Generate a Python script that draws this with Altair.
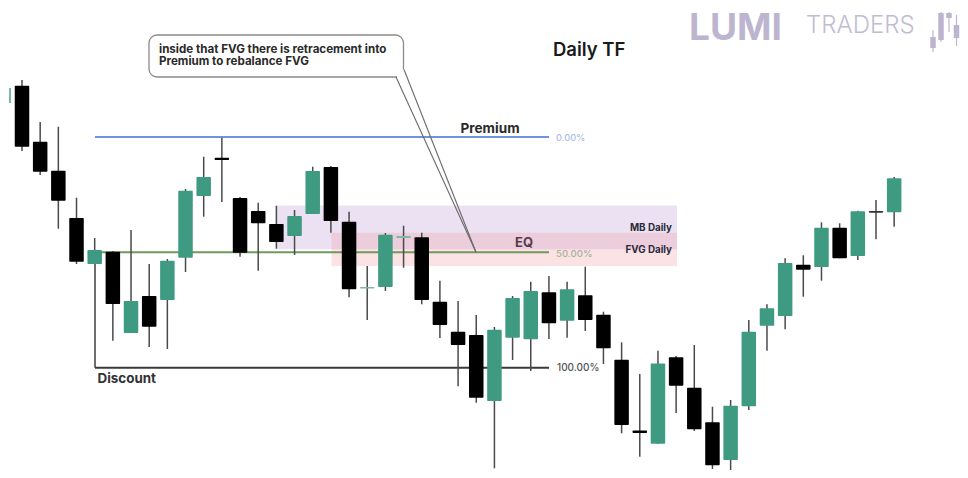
import altair as alt
import pandas as pd

# Candles (vertical chart units, larger = lower on the page)
day = list(range(49))
wick_top = [80,122,126.7,197.7,238,251,230,264,259,189,156.7,137.7,197,202.7,205.7,210,166.7,166,211.7,266,233,225.7,232.7,280.7,301,315,327,296,281.7,276,281.7,266.7,311.7,342.3,374,350.7,356,345,406.7,400,320,304.3,258.3,255.3,222.3,223.3,210.7,200,177]
body_top = [85.7,141.7,170.7,218,250,251.7,301,296,260.7,190.7,177,157.7,198,211,224,216,171,167,221.7,287,234.7,236,237.3,301.7,331.7,335,329.7,298,291,292.3,289.3,295.3,314.7,359.7,430.5,363.5,357.3,387.7,422.3,405.7,331.7,308.3,263,264.7,227.7,227.7,211.3,211,178.3]
body_bot = [146.7,171.7,200.7,261.7,264,304,333,326.7,300,257.7,196,160,252.7,223.3,242,236,214,221,289.3,288.5,287,238,300,325,345,397.7,401,337.7,339.3,323.3,320.7,320,348.3,425,433,443.7,385.7,429.3,465.3,460,406.3,325.7,316,269.7,267,258.3,256,212.7,212.3]
wick_bot = [151,175,228.7,264,264,340.7,333,347,349,272,216.7,202,256.7,270.7,248.7,255,214,232.7,297.3,320,291,267.7,304.3,338,386.3,402.7,468.3,360,371,339,337.7,331,364,433.3,456.7,443.7,413,431,469,470,410,350.7,329.3,296.7,280.7,258.3,260,239.3,226.7]
kind = ["down","down","down","down","up","down","up","down","up","up","up","down","down","down","down","up","up","down","down","doji","up","doji","down","down","down","down","up","up","up","down","up","down","down","down","down","up","down","down","down","up","up","up","up","down","up","down","up","dark","up"]

# Fibonacci levels and zones
premium_level, eq_level, discount_level = 137, 252.3, 367.7
mb_zone = [205.5, 249.3]
fvg_zone = [232.7, 266]

df = pd.DataFrame(dict(day=day, wick_top=wick_top, body_top=body_top, body_bot=body_bot, wick_bot=wick_bot, kind=kind))

SPACING = 18.17
FIRST = 22
def D(px):
    return (px - FIRST) / SPACING

X = alt.Scale(domain=[D(8), D(960)], range=[0, 952], nice=False, zero=False, padding=0)
Y = alt.Scale(domain=[8, 470], range=[0, 462], nice=False, zero=False, padding=0)
xq = lambda f: alt.X(f, type="quantitative", scale=X, axis=None)
yq = lambda f: alt.Y(f, type="quantitative", scale=Y, axis=None)

FONT = "Inter"

def zone(x0, x1, band, color, opacity):
    d = pd.DataFrame([dict(a=D(x0), b=D(x1), t=band[0], u=band[1])])
    return alt.Chart(d).mark_rect(color=color, opacity=opacity).encode(
        x=xq("a"), x2="b", y=yq("t"), y2="u")

def seg(x0, y0, x1, y1, color, w=1.5):
    d = pd.DataFrame([dict(a=D(x0), b=D(x1), t=y0, u=y1)])
    return alt.Chart(d).mark_rule(color=color, strokeWidth=w).encode(
        x=xq("a"), x2="b", y=yq("t"), y2="u")

def label(txt, px, py, size, color, weight="bold", align="left", font=FONT):
    d = pd.DataFrame([dict(a=D(px), t=py, s=txt)])
    return alt.Chart(d).mark_text(align=align, baseline="middle", fontSize=size, color=color,
                                  fontWeight=weight, font=font).encode(
        x=xq("a"), y=yq("t"), text="s:N")

# Zones behind everything
layers = [
    zone(277, 677, mb_zone, "#ebe1f2", 1),
    zone(331.5, 677, fvg_zone, "#f0a0a8", 0.3),
    seg(95, premium_level, 549, premium_level, "#6f93e0", 2),
    seg(95, eq_level, 549, eq_level, "#6f9a5c", 2),
    seg(95, discount_level, 549, discount_level, "#3a3a3a", 2),
    seg(95, 264, 95, discount_level, "#4a4a4a", 1.6),
]

# Candles
wicks = alt.Chart(df).mark_rule(color="#4a4a4a", strokeWidth=1.5).encode(
    x=xq("day"), y=yq("wick_top"), y2="wick_bot")
bodies = alt.Chart(df).mark_bar(size=14.5, cornerRadius=1).encode(
    x=xq("day"), y=yq("body_top"), y2="body_bot",
    color=alt.Color("kind:N", legend=None, scale=alt.Scale(
        domain=["up", "down", "doji", "dark"],
        range=["#3f9a82", "#000000", "#7db8a6", "#333333"])))
layers += [wicks, bodies, seg(10, 88, 10, 103, "#3f9a82", 1.4)]

# Callout
box = pd.DataFrame([dict(a=D(149), b=D(403.5), t=35, u=77)])
layers += [
    alt.Chart(box).mark_rect(fill="white", stroke="#8a8a8a", strokeWidth=1.3, cornerRadius=8).encode(
        x=xq("a"), x2="b", y=yq("t"), y2="u"),
    zone(397, 405.5, [69.5, 79], "white", 1),
    seg(396, 77, 476, 252.3, "#6a6a6a", 1.1),
    seg(404, 69.5, 476, 252.3, "#6a6a6a", 1.1),
    label("inside that FVG there is retracement into", 159, 49.5, 11.6, "#2a2a2a"),
    label("Premium to rebalance FVG", 159, 62, 11.6, "#2a2a2a"),
]

# Labels
layers += [
    label("Daily TF", 553, 49.5, 18.5, "#1a1a1a", 600),
    label("Premium", 460.5, 128.5, 13.6, "#2a2a2a"),
    label("0.00%", 556, 137.5, 9.2, "#a9c0e8", 500),
    label("EQ", 515, 243, 13, "#5a3a50"),
    label("50.00%", 556, 253.5, 9.6, "#a8b49a", 500),
    label("MB Daily", 672, 228, 9.8, "#2a2a3a", align="right"),
    label("FVG Daily", 672, 249.5, 9.8, "#2a2a3a", align="right"),
    label("100.00%", 557, 368, 10, "#555555", 500),
    label("Discount", 97.5, 379, 13.4, "#333333"),
]

# Logo
LOGO = "#bdb5cf"
layers += [
    label("LUMI", 689, 29, 37, LOGO, 700),
    label("TRADERS", 806, 26, 24, "#c2bcd3", 300),
]
logo_x = [933, 941, 949, 956.5]
logo_w0 = [30, 12, 12, 15]
logo_b0 = [37, 13, 13, 25]
logo_b1 = [48, 40, 18, 38]
logo_w1 = [52, 42, 32, 46]
ld = pd.DataFrame(dict(x=[D(v) for v in logo_x], a=logo_w0, b=logo_b0, c=logo_b1, e=logo_w1))
layers += [
    alt.Chart(ld).mark_rule(color=LOGO, strokeWidth=1.2).encode(x=xq("x"), y=yq("a"), y2="e"),
    alt.Chart(ld).mark_bar(size=5.5, color=LOGO).encode(x=xq("x"), y=yq("b"), y2="c"),
]

chart = alt.layer(*layers).properties(
    width=952, height=462, padding=0, autosize=alt.AutoSizeParams(type="none"),
    background="white",
).configure_view(stroke=None)

chart.save("out.html", embed_options={"renderer": "svg", "actions": False})
